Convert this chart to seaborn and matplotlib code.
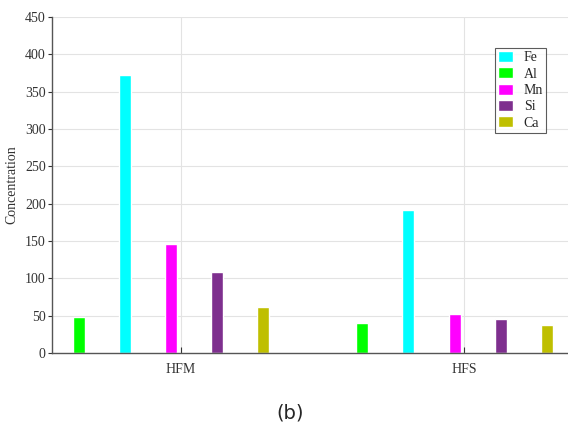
import pandas as pd
import numpy as np
import matplotlib
matplotlib.use('Agg')
import matplotlib.pyplot as plt
from matplotlib.patches import Patch
import seaborn as sns

# Data
samples = ['HFM', 'HFS']
elements = ['Al', 'Fe', 'Mn', 'Si', 'Ca']   # left-to-right bar order
legend_order = ['Fe', 'Al', 'Mn', 'Si', 'Ca']
al = [49, 40]
fe = [373, 191]
mn = [146, 52]
si = [108, 46]
ca = [62, 38]

colors = {'Fe': '#00FFFF', 'Al': '#00FF00', 'Mn': '#FF00FF',
          'Si': '#7E2F8E', 'Ca': '#BFBF00'}

df = pd.DataFrame({
    'sample': samples * 5,
    'element': np.repeat(elements, 2),
    'value': al + fe + mn + si + ca,
})

sns.set_style('white')
plt.rcParams['font.family'] = ['Liberation Serif', 'DejaVu Serif']

fig = plt.figure(figsize=(5.68, 4.28), dpi=100)
ax = fig.add_axes([0.0915, 0.175, 0.9085, 0.785])

sns.barplot(data=df, x='sample', y='value', hue='element',
            order=samples, hue_order=elements, palette=colors,
            width=0.815, gap=0.74, saturation=1, legend=False, ax=ax)

ax.set_xticks([0.034, 1.034])
ax.set_xticklabels(samples, fontsize=10, color='#333333')
ax.set_xlim(-0.42, 1.40)
ax.set_ylim(0, 450)
ax.set_yticks(range(0, 451, 50))
ax.tick_params(axis='y', labelsize=10, colors='#333333', direction='out',
               length=3, width=0.8, pad=1.5, left=True)
ax.tick_params(axis='x', direction='in', length=4, width=0.8, bottom=True,
               colors='#333333', pad=7)
ax.set_xlabel('')
ax.set_ylabel('Concentration', fontsize=10, color='#333333', labelpad=5)

ax.grid(True, color='#e3e3e3', linewidth=0.8)
ax.set_axisbelow(True)
for s in ['top', 'right']:
    ax.spines[s].set_visible(False)
for s in ['left', 'bottom']:
    ax.spines[s].set_color('#555555')
    ax.spines[s].set_linewidth(1.0)

handles = [Patch(facecolor=colors[e], label=e) for e in legend_order]
leg = ax.legend(handles=handles, loc='upper right',
                bbox_to_anchor=(0.957, 0.908), borderaxespad=0,
                fontsize=10, frameon=True, fancybox=False,
                handlelength=1.1, handleheight=0.85, labelspacing=0.22,
                handletextpad=0.75, borderpad=0.2)
leg.get_frame().set_edgecolor('#333333')
leg.get_frame().set_linewidth(0.8)

fig.text(0.51, 0.035, '(b)', fontsize=14, family='DejaVu Sans',
         ha='center', va='center')

plt.savefig('out.png', dpi=100)
